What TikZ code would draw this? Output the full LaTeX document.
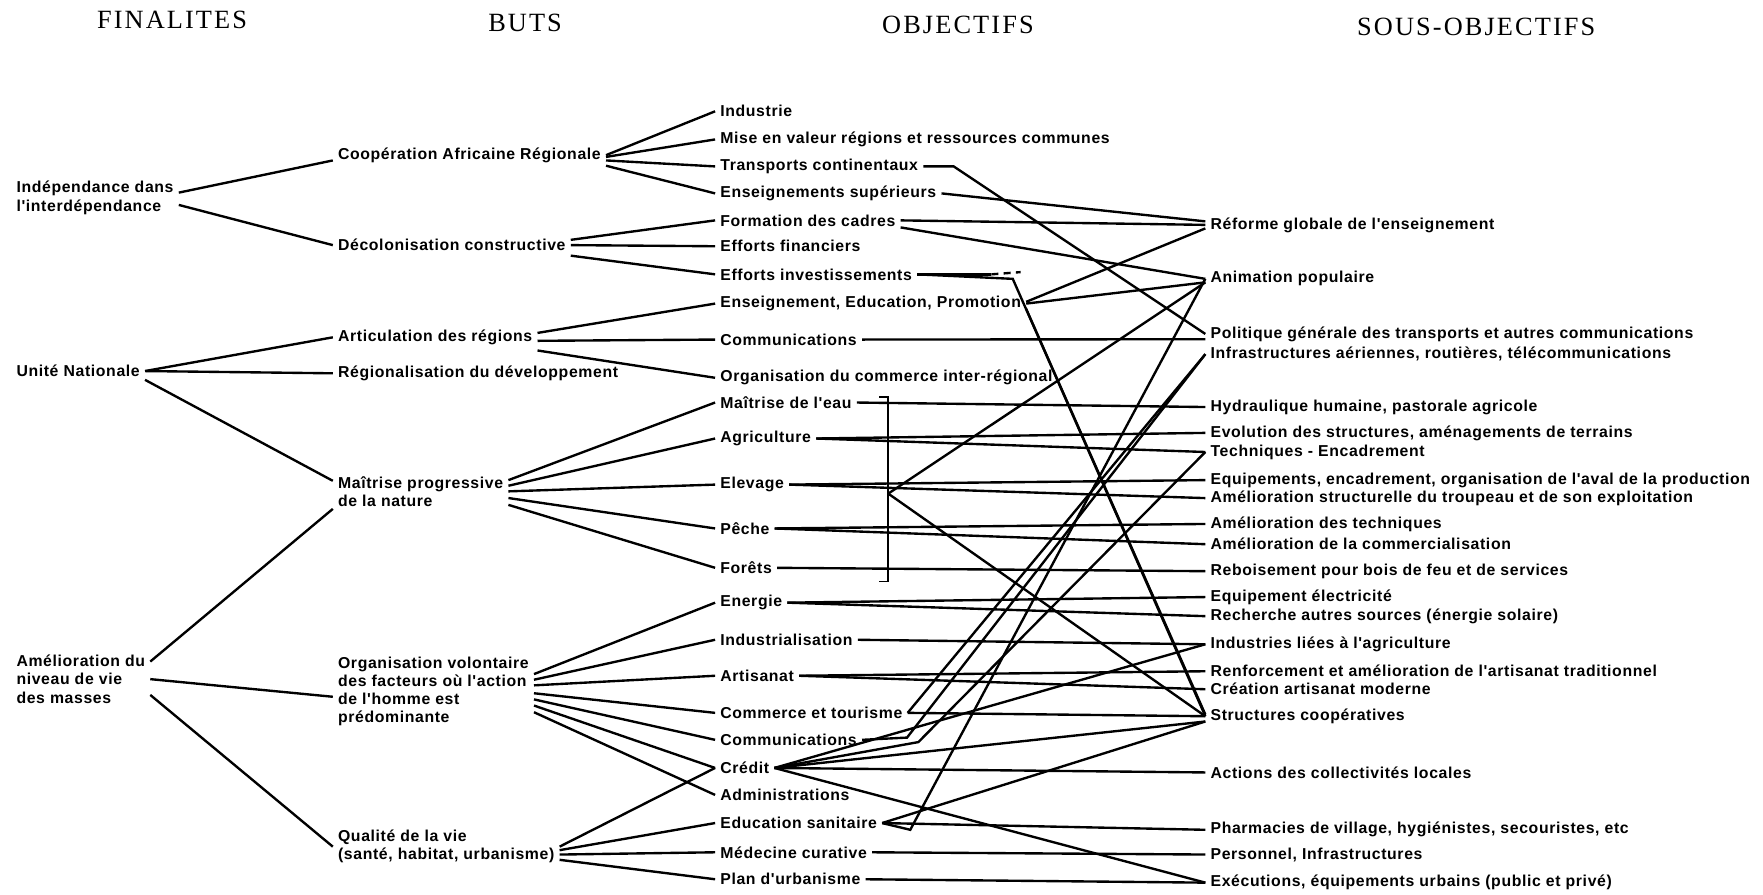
\documentclass[tikz,border=0pt]{standalone}
\usepackage{fontspec}
\setmainfont{Liberation Serif}
\newfontfamily\headfont[LetterSpace=8]{Liberation Serif}
\newfontfamily\labfont[LetterSpace=4]{Liberation Sans}

\begin{document}
\begin{tikzpicture}[x=0.0225cm, y=-0.0225cm,
  head/.style={font=\headfont\fontsize{15}{17}\selectfont},
  lab/.style={anchor=west, inner sep=2pt, outer sep=1pt, align=left,
              font=\labfont\bfseries\fontsize{9}{10.4}\selectfont},
  sub/.style={lab},
  lnk/.style={line width=1.35pt}
]
\useasboundingbox (0,0) rectangle (1568,796);

% Column heads
\node[head] (hfin) at (153,18) {FINALITES};
\node[head] (hbut) at (467,20) {BUTS};
\node[head] (hobj) at (852,22) {OBJECTIFS};
\node[head] (hsob) at (1313,24) {SOUS-OBJECTIFS};

% Finalites
\node[lab] (ind) at (10,176) {Indépendance dans\\l'interdépendance};
\node[lab] (un)  at (10,330) {Unité Nationale};
\node[lab] (am)  at (10,604) {Amélioration du\\niveau de vie\\des masses};

% Buts
\node[lab] (coop) at (296,138) {Coopération Africaine Régionale};
\node[lab] (deco) at (296,218) {Décolonisation constructive};
\node[lab] (art)  at (296,300) {Articulation des régions};
\node[lab] (reg)  at (296,332) {Régionalisation du développement};
\node[lab] (mai)  at (296,437) {Maîtrise progressive\\de la nature};
\node[lab] (org)  at (296,615) {Organisation volontaire\\des facteurs où l'action\\de l'homme est\\prédominante};
\node[lab] (qual) at (296,753) {Qualité de la vie\\(santé, habitat, urbanisme)};

% Objectifs
\node[lab] (oind)  at (636,99)  {Industrie};
\node[lab] (omise) at (636,124) {Mise en valeur régions et ressources communes};
\node[lab] (otc)   at (636,148) {Transports continentaux};
\node[lab] (oes)   at (636,172) {Enseignements supérieurs};
\node[lab] (ofc)   at (636,196) {Formation des cadres};
\node[lab] (oef)   at (636,219) {Efforts financiers};
\node[lab] (oei)   at (636,244) {Efforts investissements};
\node[lab] (oeep)  at (636,270) {Enseignement, Education, Promotion};
\node[lab] (ocom)  at (636,302) {Communications};
\node[lab] (ocir)  at (636,336) {Organisation du commerce inter-régional};
\node[lab] (oeau)  at (636,358) {Maîtrise de l'eau};
\node[lab] (oagr)  at (636,390) {Agriculture};
\node[lab] (oelev) at (636,431) {Elevage};
\node[lab] (opech) at (636,470) {Pêche};
\node[lab] (ofor)  at (636,505) {Forêts};
\node[lab] (oener) at (636,536) {Energie};
\node[lab] (oindl) at (636,569) {Industrialisation};
\node[lab] (oart)  at (636,601) {Artisanat};
\node[lab] (ocomt) at (636,634) {Commerce et tourisme};
\node[lab] (ocom2) at (636,658) {Communications};
\node[lab] (ocred) at (636,683) {Crédit};
\node[lab] (oadm)  at (636,707) {Administrations};
\node[lab] (oedus) at (636,732) {Education sanitaire};
\node[lab] (omed)  at (636,758) {Médecine curative};
\node[lab] (oplan) at (636,782) {Plan d'urbanisme};

% Sous-objectifs
\node[sub] (sref)   at (1072,200) {Réforme globale de l'enseignement};
\node[sub] (sanim)  at (1072,248) {Animation populaire};
\node[sub] (spol)   at (1072,297) {Politique générale des transports et autres communications};
\node[sub] (sinfra) at (1072,315) {Infrastructures aériennes, routières, télécommunications};
\node[sub] (shyd)   at (1072,362) {Hydraulique humaine, pastorale agricole};
\node[sub] (sevo)   at (1072,385) {Evolution des structures, aménagements de terrains};
\node[sub] (stech)  at (1072,402) {Techniques - Encadrement};
\node[sub] (sequ)   at (1072,427) {Equipements, encadrement, organisation de l'aval de la production};
\node[sub] (sast)   at (1072,443) {Amélioration structurelle du troupeau et de son exploitation};
\node[sub] (sadt)   at (1072,466) {Amélioration des techniques};
\node[sub] (sadc)   at (1072,484) {Amélioration de la commercialisation};
\node[sub] (sreb)   at (1072,508) {Reboisement pour bois de feu et de services};
\node[sub] (seel)   at (1072,531) {Equipement électricité};
\node[sub] (srech)  at (1072,548) {Recherche autres sources (énergie solaire)};
\node[sub] (silag)  at (1072,573) {Industries liées à l'agriculture};
\node[sub] (srenf)  at (1072,597) {Renforcement et amélioration de l'artisanat traditionnel};
\node[sub] (scam)   at (1072,613) {Création artisanat moderne};
\node[sub] (ssc)    at (1072,637) {Structures coopératives};
\node[sub] (sacl)   at (1072,687) {Actions des collectivités locales};
\node[sub] (spharm) at (1072,738) {Pharmacies de village, hygiénistes, secouristes, etc};
\node[sub] (spers)  at (1072,760) {Personnel, Infrastructures};
\node[sub] (sexe)   at (1072,785) {Exécutions, équipements urbains (public et privé)};

% Finalites -> buts
\draw[lnk] ([yshift=3pt]ind.east) -- ([yshift=-3pt]coop.west);
\draw[lnk] ([yshift=-4pt]ind.east) -- (deco.west);
\draw[lnk] (un.east) -- (art.west);
\draw[lnk] (un.east) -- (reg.west);
\draw[lnk] ([yshift=-5pt]un.east) -- ([yshift=6pt]mai.west);
\draw[lnk] ([yshift=10pt]am.east) -- ([yshift=-10pt]mai.west);
\draw[lnk] (am.east) -- ([yshift=-3pt]org.west);
\draw[lnk] ([yshift=-9pt]am.east) -- (qual.west);

% Buts -> objectifs
\draw[lnk] (coop.east) -- (oind.west);
\draw[lnk] ([yshift=-1pt]coop.east) -- (omise.west);
\draw[lnk] ([yshift=-3pt]coop.east) -- (otc.west);
\draw[lnk] ([yshift=-6pt]coop.east) -- (oes.west);
\draw[lnk] ([yshift=3pt]deco.east) -- (ofc.west);
\draw[lnk] (deco.east) -- (oef.west);
\draw[lnk] ([yshift=-6pt]deco.east) -- (oei.west);
\draw[lnk] ([yshift=2.5pt]art.east) -- (oeep.west);
\draw[lnk] ([yshift=-2pt]art.east) -- (ocom.west);
\draw[lnk] ([yshift=-7.5pt]art.east) -- (ocir.west);
\draw[lnk] ([yshift=6.4pt]mai.east) -- (oeau.west);
\draw[lnk] ([yshift=3.2pt]mai.east) -- (oagr.west);
\draw[lnk] (mai.east) -- (oelev.west);
\draw[lnk] ([yshift=-3.8pt]mai.east) -- (opech.west);
\draw[lnk] ([yshift=-7.7pt]mai.east) -- (ofor.west);
\draw[lnk] ([yshift=9.9pt]org.east) -- (oener.west);
\draw[lnk] ([yshift=6.7pt]org.east) -- (oindl.west);
\draw[lnk] ([yshift=3.5pt]org.east) -- (oart.west);
\draw[lnk] ([yshift=-1pt]org.east) -- (ocomt.west);
\draw[lnk] ([yshift=-4.5pt]org.east) -- (ocom2.west);
\draw[lnk] ([yshift=-8pt]org.east) -- (ocred.west);
\draw[lnk] ([yshift=-11.8pt]org.east) -- (oadm.west);
\draw[lnk] (qual.east) -- (ocred.west);
\draw[lnk] ([yshift=-2pt]qual.east) -- (oedus.west);
\draw[lnk] ([yshift=-4.5pt]qual.east) -- (omed.west);
\draw[lnk] ([yshift=-7.5pt]qual.east) -- (oplan.west);

% Bracket over the nature group
\coordinate (brt) at (790,353);
\coordinate (brb) at (790,517);
\coordinate (brk) at (790,439);
\draw[line width=0.9pt] ([xshift=-5pt]brt) -- (brt) -- (brb) -- ([xshift=-5pt]brb);

% Objectifs -> sous-objectifs
\draw[lnk] (otc.east) -- ++(27,0) -- (spol.west);
\draw[lnk] (oes.east) -- ([yshift=2pt]sref.west);
\draw[lnk] (ofc.east) -- (sref.west);
\draw[lnk] ([yshift=-4pt]ofc.east) -- (sanim.west);
\draw[lnk] (oei.east) -- ++(66,0);
\draw[lnk, dash pattern=on 4pt off 3pt] (oei.east) ++(66,0) -- ++(26,-2);
\draw[lnk] (oei.east) -- ++(85,4) -- (ssc.west);
\draw[lnk] ([yshift=1pt]oeep.east) -- ([yshift=-2pt]sref.west);
\draw[lnk] (oeep.east) -- ([yshift=-2pt]sanim.west);
\draw[lnk] ([yshift=-3pt]oeep.east) -- ([yshift=1pt]ssc.west);
\draw[lnk] (ocom.east) -- ([yshift=-3pt]spol.west);
\draw[lnk] (brk) -- ([yshift=-2pt]sanim.west);
\draw[lnk] (brk) -- (ssc.west);
\draw[lnk] (oeau.east) -- (shyd.west);
\draw[lnk] (oagr.east) -- (sevo.west);
\draw[lnk] (oagr.east) -- (stech.west);
\draw[lnk] (oelev.east) -- (sequ.west);
\draw[lnk] (oelev.east) -- (sast.west);
\draw[lnk] (opech.east) -- (sadt.west);
\draw[lnk] (opech.east) -- (sadc.west);
\draw[lnk] (ofor.east) -- (sreb.west);
\draw[lnk] (oener.east) -- (seel.west);
\draw[lnk] (oener.east) -- (srech.west);
\draw[lnk] (oindl.east) -- (silag.west);
\draw[lnk] (oart.east) -- (srenf.west);
\draw[lnk] (oart.east) -- (scam.west);
\draw[lnk] (ocomt.east) -- (ssc.west);
\draw[lnk] (ocomt.east) -- (sinfra.west);
\draw[lnk] (ocom2.east) -- ++(40,-2) -- (sinfra.west);
\draw[lnk] (ocred.east) -- ++(128,-23) -- (stech.west);
\draw[lnk] (ocred.east) -- (silag.west);
\draw[lnk] (ocred.east) -- ([yshift=-3pt]ssc.west);
\draw[lnk] (ocred.east) -- (sacl.west);
\draw[lnk] (ocred.east) -- (sexe.west);
\draw[lnk] (oedus.east) -- ++(25,6) -- (sanim.west);
\draw[lnk] (oedus.east) -- ([yshift=-3pt]ssc.west);
\draw[lnk] (oedus.east) -- (spharm.west);
\draw[lnk] (omed.east) -- (spers.west);
\draw[lnk] (oplan.east) -- (sexe.west);
\end{tikzpicture}
\end{document}
